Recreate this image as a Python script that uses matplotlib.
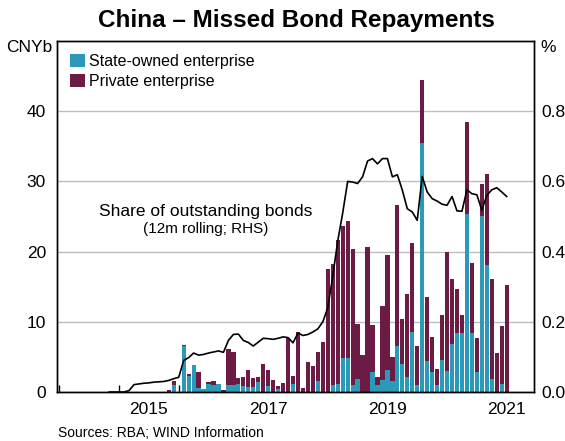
import matplotlib
matplotlib.use('Agg')
import numpy as np
import matplotlib.pyplot as plt
from matplotlib.patches import Patch

plt.rcParams['font.family'] = ['Liberation Sans', 'DejaVu Sans']

# monthly bars, Nov 2015 to Jul 2021 (CNY billion)
bar_start = (2015, 11)
soe = [0, 0.95,
       0, 6.5, 2.3, 3.8, 0.6, 0.38, 1.08, 0.94, 1.08, 0, 0.94, 0.94,
       1.1, 0.9, 0.7, 0.7, 1.37, 0, 0.8, 0, 0.38, 0, 0, 1.1,
       0, 0, 0, 0, 1.57, 0, 0, 1.04, 1.1, 4.9, 4.9, 0.95,
       1.9, 0, 0, 2.9, 0.95, 1.66, 3.2, 1.5, 6.5, 4.0, 2.1, 8.5,
       0.95, 35.4, 4.4, 2.9, 0.95, 4.6, 3.0, 6.9, 8.4, 8.4, 25.4, 8.4,
       2.85, 25.1, 18.1, 1.9, 0, 1.1, 0]
private = [0.35, 0.61,
           0, 0.2, 0.25, 0.07, 2.23, 0, 0.32, 0.56, 0, 0.24, 5.16, 4.76,
           0.85, 1.2, 2.4, 1.35, 0.73, 4.05, 2.35, 1.75, 0.45, 1.3, 7.7, 1.15,
           8.6, 0.6, 4.25, 3.7, 4.13, 7.1, 17.5, 17.26, 20.6, 18.7, 19.5, 19.45,
           7.8, 5.2, 20.7, 6.6, 1.25, 10.54, 16.3, 3.5, 20.2, 6.4, 11.9, 12.7,
           5.55, 9.0, 9.2, 4.9, 2.35, 6.3, 17.0, 9.2, 6.3, 2.5, 13.1, 10.0,
           4.85, 4.5, 13.0, 14.2, 5.55, 8.3, 15.2]

# share of outstanding bonds, 12m rolling (%), Nov 2014 to Jul 2021
line_start = (2014, 11)
share = [0, 0,
         0, 0, 0.004, 0.021, 0.023, 0.025, 0.026, 0.028, 0.029, 0.030, 0.033, 0.038,
         0.042, 0.090, 0.098, 0.111, 0.105, 0.107, 0.111, 0.114, 0.117, 0.113, 0.147, 0.164,
         0.165, 0.147, 0.141, 0.131, 0.142, 0.153, 0.152, 0.150, 0.153, 0.157, 0.155, 0.140,
         0.168, 0.161, 0.164, 0.171, 0.180, 0.200, 0.240, 0.330, 0.430, 0.510, 0.600, 0.598,
         0.594, 0.613, 0.658, 0.665, 0.650, 0.665, 0.665, 0.613, 0.619, 0.575, 0.522, 0.513,
         0.489, 0.614, 0.570, 0.551, 0.544, 0.535, 0.532, 0.557, 0.516, 0.515, 0.576, 0.565,
         0.562, 0.518, 0.560, 0.576, 0.582, 0.570, 0.557]

year_labels = ['2015', '2017', '2019', '2021']
left_ticks = [0, 10, 20, 30, 40]
right_ticks = [0.0, 0.2, 0.4, 0.6, 0.8]

teal = '#2B9AB9'
maroon = '#6C1B45'


def month_axis(start, n):
    return start[0] + (start[1] - 1) / 12 + np.arange(n) / 12


xb = month_axis(bar_start, len(soe))
xl = month_axis(line_start, len(share))

fig = plt.figure(figsize=(5.65, 4.41), dpi=100)
ax = fig.add_axes([57 / 565, 1 - 392 / 441, 477 / 565, 351 / 441])

ax.bar(xb, soe, width=0.86 / 12, color=teal, linewidth=0, zorder=2)
ax.bar(xb, private, bottom=soe, width=0.86 / 12, color=maroon, linewidth=0, zorder=2)

ax.set_xlim(2014 - 0.5 / 12, 2022 - 0.5 / 12)
ax.set_ylim(0, 50)
ax.set_yticks(left_ticks)
ax.yaxis.grid(True, color='#bdbdbd', linewidth=1.0)
ax.set_axisbelow(True)

ax.set_xticks(range(2014, 2022))
ax.set_xticklabels([])
ax.set_xticks([int(y) + 0.5 for y in year_labels], minor=True)
ax.set_xticklabels(year_labels, minor=True)
ax.tick_params(axis='x', which='major', direction='in', length=5, width=1, color='black')
ax.tick_params(axis='x', which='minor', length=0, pad=7, labelsize=12.5)
ax.tick_params(axis='y', length=0, pad=8, labelsize=12.5)

ax2 = ax.twinx()
ax2.plot(xl, share, color='black', linewidth=1.2)
ax2.set_ylim(0, 1)
ax2.set_yticks(right_ticks)
ax2.set_yticklabels(['%.1f' % v for v in right_ticks])
ax2.tick_params(axis='y', length=0, pad=5, labelsize=12.5)

for a in (ax, ax2):
    for s in a.spines.values():
        s.set_color('black')
        s.set_linewidth(1.0)

ax.text(0.312, 0.513, 'Share of outstanding bonds', transform=ax.transAxes,
        ha='center', va='center', fontsize=12.5)
ax.text(0.312, 0.464, '(12m rolling; RHS)', transform=ax.transAxes,
        ha='center', va='center', fontsize=11)

handles = [Patch(facecolor=teal, linewidth=0), Patch(facecolor=maroon, linewidth=0)]
ax2.legend(handles, ['State-owned enterprise', 'Private enterprise'], loc='upper left',
           bbox_to_anchor=(0.028, 0.963), frameon=False, fontsize=11.5,
           handlelength=0.9, handleheight=0.9, handletextpad=0.25,
           labelspacing=0.3, borderpad=0, borderaxespad=0)

fig.text(296 / 565, 1 - 21 / 441, 'China \u2013 Missed Bond Repayments',
         ha='center', va='center', fontsize=17.5, fontweight='bold')
fig.text(52 / 565, 1 - 47 / 441, 'CNYb', ha='right', va='center', fontsize=12.5)
fig.text(540 / 565, 1 - 47 / 441, '%', ha='left', va='center', fontsize=12.5)
fig.text(58 / 565, 1 - 426 / 441, 'Sources: RBA; WIND Information',
         ha='left', va='top', fontsize=10)

fig.savefig('out.png', dpi=100)
